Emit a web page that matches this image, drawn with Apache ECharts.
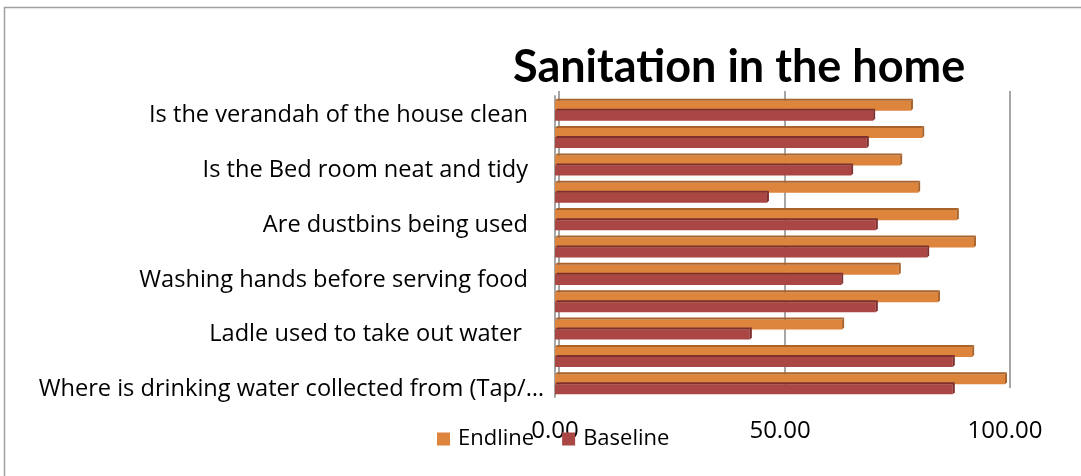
<!DOCTYPE html>
<html><head><meta charset="utf-8">
<script src="https://cdn.jsdelivr.net/npm/echarts@6/dist/echarts.min.js"></script>
<style>html,body{margin:0;padding:0;background:#fff}#c{width:1081px;height:476px}</style>
</head><body><div id="c"></div>
<script>
// categories bottom -> top (every other label shown, as in the reference)
const categories = [
  "Where is drinking water collected from (Tap/…",
  "Is the toilet clean",
  "Ladle used to take out water ",
  "Is drinking water stored covered",
  "Washing hands before serving food",
  "Washing hands after using toilet",
  "Are dustbins being used",
  "Is the kitchen clean",
  "Is the Bed room neat and tidy",
  "Is the house clean",
  "Is the verandah of the house clean"
];
const endline  = [100, 92.7, 63.8, 85.1, 76.4, 93.1, 89.3, 80.7, 76.7, 81.6, 79.1];
const baseline = [88.4, 88.4, 43.3, 71.3, 63.6, 82.7, 71.3, 47.1, 65.8, 69.3, 70.7];
const xTicks = [0, 50, 100];

const FONT = 'Open Sans';
const chart = echarts.init(document.getElementById('c'), null, {renderer: 'canvas'});

function bar3d(front, top, side, upper) {
  return function (params, api) {
    const idx = api.value(0), v = api.value(1);
    const p = api.coord([v, idx]);
    const o = api.coord([0, idx]);
    const band = api.size([0, 1])[1];
    const h = band * 0.366;
    const d = 2;
    const y0 = upper ? p[1] - h + 1 : p[1] + 1;
    const x0 = o[0], x1 = p[0];
    return {
      type: 'group',
      children: [
        {type: 'rect', shape: {x: x0, y: y0, width: x1 - x0, height: h}, style: {fill: front}},
        {type: 'polygon', shape: {points: [[x0, y0], [x1, y0], [x1 + d, y0 - d], [x0 + d, y0 - d]]}, style: {fill: top}},
        {type: 'polygon', shape: {points: [[x1, y0], [x1 + d, y0 - d], [x1 + d, y0 + h - d], [x1, y0 + h]]}, style: {fill: side}}
      ]
    };
  };
}

chart.setOption({
  animation: false,
  textStyle: {fontFamily: FONT},
  title: {
    text: 'Sanitation in the home', left: 508, top: 40,
    textStyle: {fontFamily: 'Lato', fontWeight: 'bold', fontSize: 45, color: '#000'}
  },
  graphic: [{type: 'rect', shape: {x: 4.5, y: 7.5, width: 1200, height: 600},
    style: {fill: 'none', stroke: '#a0a0a0', lineWidth: 1.5}, silent: true, z: -10}],
  legend: {
    left: 437, top: 428, itemWidth: 13, itemHeight: 13, itemGap: 28, padding: 0,
    icon: 'rect', data: ['Endline', 'Baseline'],
    textStyle: {fontFamily: FONT, fontSize: 22, color: '#000', padding: [0, 0, 0, 3]}
  },
  grid: [
    {left: 555, right: 76, top: 96, bottom: 79},
    {left: 559, right: 71, top: 91, bottom: 88}
  ],
  xAxis: [
    {gridIndex: 0, type: 'value', min: 0, max: 100, interval: 50,
      axisLine: {show: false}, axisTick: {show: false}, splitLine: {show: false},
      axisLabel: {margin: 22, fontSize: 24, color: '#000', fontFamily: FONT,
        formatter: v => xTicks.includes(v) ? v.toFixed(2) : ''}},
    {gridIndex: 1, type: 'value', min: 0, max: 100, interval: 50,
      axisLine: {show: false}, axisTick: {show: false}, axisLabel: {show: false},
      splitLine: {show: true, lineStyle: {color: '#a6a6a6', width: 2}}}
  ],
  yAxis: [
    {gridIndex: 0, type: 'category', data: categories,
      axisLine: {show: true, lineStyle: {color: '#a6a6a6', width: 2}},
      axisTick: {show: false},
      axisLabel: {interval: 1, margin: 11, color: '#000', fontFamily: FONT,
        verticalAlign: 'top', lineHeight: 12,
        formatter: (v, i) => i === 0 ? '{t|' + v + '}' : '{t|' + v + '}{s|}',
        rich: {
          t: {fontSize: 23.6, fontFamily: FONT, color: '#000', lineHeight: 12},
          s: {width: 16, lineHeight: 12}
        }}},
    {gridIndex: 1, type: 'category', data: categories, show: false}
  ],
  series: [
    {name: 'Endline', type: 'custom', xAxisIndex: 0, yAxisIndex: 0,
      itemStyle: {color: '#DD843D'},
      renderItem: bar3d('#DD843D', '#A9622A', '#A9622A', true),
      encode: {x: 1, y: 0},
      data: endline.map((v, i) => [i, v])},
    {name: 'Baseline', type: 'custom', xAxisIndex: 0, yAxisIndex: 0,
      itemStyle: {color: '#AA4644'},
      renderItem: bar3d('#AA4644', '#7E2F2E', '#7E2F2E', false),
      encode: {x: 1, y: 0},
      data: baseline.map((v, i) => [i, v])}
  ]
});
</script></body></html>
